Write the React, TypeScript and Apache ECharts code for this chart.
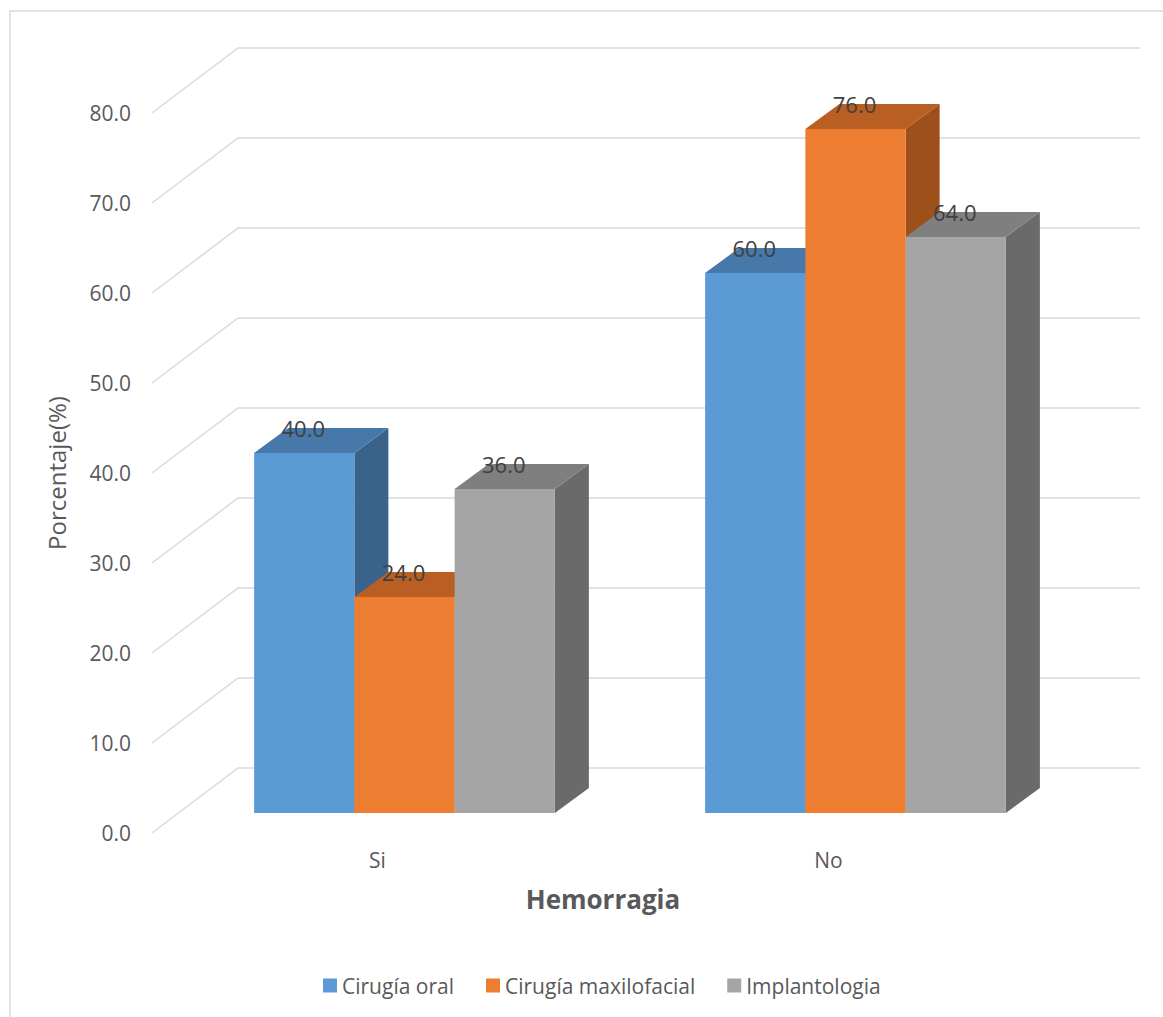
import React, { useEffect, useRef } from "react";
import * as echarts from "echarts";

// Categories and values (percent)
const categories = ["Si", "No"];
const seriesNames = ["Cirugía oral", "Cirugía maxilofacial", "Implantologia"];
const oralValues = [40.0, 60.0];
const maxilofacialValues = [24.0, 76.0];
const implantologiaValues = [36.0, 64.0];
const yTicks = [0, 10, 20, 30, 40, 50, 60, 70, 80];

// Face colours for each series: front, top, side
const faceColors = [
  { front: "#5B9BD5", top: "#4678AA", side: "#3A638C" },
  { front: "#ED7D31", top: "#B95F23", side: "#9E501B" },
  { front: "#A5A5A5", top: "#7F7F7F", side: "#6A6A6A" },
];

// Pseudo-3D geometry (pixels)
const WALL_DX = 86;
const WALL_DY = -65;
const BAR_FX = 27;
const BAR_FY = -20;
const BAR_DX = 34;
const BAR_DY = -25;
const BAR_FRACTION = 0.2223;

const FONT = "'Open Sans', 'Noto Sans', sans-serif";

function makeBarSeries(name: string, values: number[], idx: number) {
  const c = faceColors[idx];
  return {
    type: "custom",
    name,
    itemStyle: { color: c.front },
    encode: { x: 0, y: 1 },
    data: values.map((v, i) => [i, v]),
    renderItem: (params: any, api: any) => {
      const cat = api.value(0);
      const val = api.value(1);
      const base = api.coord([cat, 0]);
      const top = api.coord([cat, val]);
      const band = api.size([1, 0])[0];
      const w = band * BAR_FRACTION;
      const x0 = base[0] - (w * 3) / 2 + idx * w + BAR_FX;
      const yb = base[1] + BAR_FY;
      const yt = top[1] + BAR_FY;
      return {
        type: "group",
        children: [
          {
            type: "polygon",
            shape: {
              points: [
                [x0 + w, yt],
                [x0 + w + BAR_DX, yt + BAR_DY],
                [x0 + w + BAR_DX, yb + BAR_DY],
                [x0 + w, yb],
              ],
            },
            style: { fill: c.side },
          },
          {
            type: "polygon",
            shape: {
              points: [
                [x0, yt],
                [x0 + w, yt],
                [x0 + w + BAR_DX, yt + BAR_DY],
                [x0 + BAR_DX, yt + BAR_DY],
              ],
            },
            style: { fill: c.top },
          },
          {
            type: "rect",
            shape: { x: x0, y: yt, width: w, height: yb - yt },
            style: { fill: c.front },
          },
          {
            type: "text",
            z2: 100,
            x: x0 + w / 2 - 1,
            y: yt + BAR_DY,
            style: {
              text: val.toFixed(1),
              fill: "#404040",
              font: `22px ${FONT}`,
              align: "center",
              verticalAlign: "middle",
            },
          },
        ],
      };
    },
  };
}

export default function App() {
  const ref = useRef<HTMLDivElement>(null);

  useEffect(() => {
    if (!ref.current) return;
    const chart = echarts.init(ref.current, null, { renderer: "svg" });

    const wallSeries = {
      type: "custom",
      name: "walls",
      silent: true,
      encode: { x: 0, y: 1 },
      data: yTicks.map((t) => [0, t]),
      renderItem: (params: any, api: any) => {
        const cs = params.coordSys;
        const p = api.coord([0, api.value(1)]);
        const y = p[1];
        return {
          type: "polyline",
          shape: {
            points: [
              [cs.x, y],
              [cs.x + WALL_DX, y + WALL_DY],
              [cs.x + cs.width + WALL_DX, y + WALL_DY],
            ],
          },
          style: { stroke: "#D9D9D9", lineWidth: 1.5, fill: null },
        };
      },
    };

    chart.setOption({
      animation: false,
      backgroundColor: "#ffffff",
      textStyle: { fontFamily: FONT },
      graphic: [
        {
          type: "rect",
          shape: { x: 10, y: 11, width: 1200, height: 1100 },
          style: { fill: null, stroke: "#D9D9D9", lineWidth: 1.5 },
          silent: true,
        },
      ],
      grid: { left: 152, top: 113, width: 902, height: 720 },
      xAxis: {
        type: "category",
        data: categories,
        axisLine: { show: false },
        axisTick: { show: false },
        axisLabel: { fontSize: 21, color: "#595959", margin: 16, fontFamily: FONT },
        name: "Hemorragia",
        nameLocation: "middle",
        nameGap: 53,
        nameTextStyle: { fontSize: 26, fontWeight: "bold", color: "#595959", fontFamily: FONT },
      },
      yAxis: {
        type: "value",
        min: 0,
        max: 80,
        interval: 10,
        axisLine: { show: false },
        axisTick: { show: false },
        splitLine: { show: false },
        axisLabel: {
          fontSize: 21,
          color: "#595959",
          margin: 21,
          fontFamily: FONT,
          formatter: (v: number) => v.toFixed(1),
        },
        name: "Porcentaje(%)",
        nameLocation: "middle",
        nameRotate: 90,
        nameGap: 84,
        nameTextStyle: { fontSize: 24, color: "#595959", fontFamily: FONT },
      },
      legend: {
        data: seriesNames,
        left: 318,
        top: 970,
        icon: "rect",
        itemWidth: 14,
        itemHeight: 14,
        itemGap: 32,
        textStyle: { fontSize: 21, color: "#595959", fontFamily: FONT },
      },
      series: [
        wallSeries,
        makeBarSeries(seriesNames[0], oralValues, 0),
        makeBarSeries(seriesNames[1], maxilofacialValues, 1),
        makeBarSeries(seriesNames[2], implantologiaValues, 2),
      ],
    });

    return () => chart.dispose();
  }, []);

  return (
    <div
      ref={ref}
      style={{ position: "fixed", left: 0, top: 0, width: 1163, height: 1017 }}
    />
  );
}
